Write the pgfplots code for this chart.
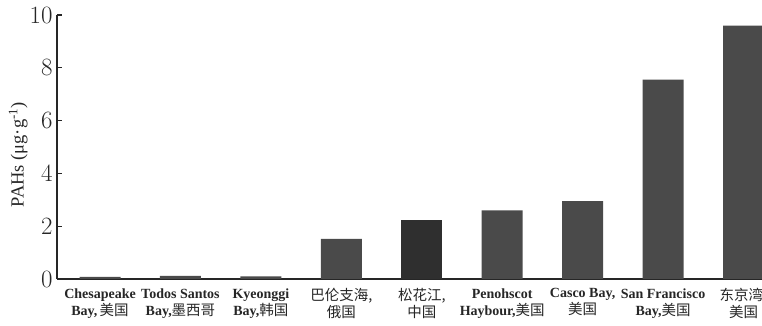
\documentclass[border=0pt]{standalone}
\usepackage{pgfplots}
\pgfplotsset{compat=1.18}
\usepackage{fontspec}
\setmainfont{Liberation Serif}
\newfontfamily\cjkf{Noto Sans CJK SC}
\newcommand{\cjk}{\cjkf\fontsize{14.5}{17}\selectfont}
\definecolor{bargray}{HTML}{4A4A4A}
\definecolor{bardark}{HTML}{2F2F2F}
\begin{document}
\begin{tikzpicture}[x=1pt,y=1pt]
\useasboundingbox (-57,-47) rectangle (705,279);
\begin{axis}[
  at={(0,0)}, anchor=south west,
  scale only axis, width=705pt, height=264pt,
  xmin=-0.535, xmax=8.23, ymin=0, ymax=10,
  ytick={0,2,4,6,8,10},
  xtick={0,1,2,3,4,5,6,7,8},
  xticklabels={
    {\textbf{Chesapeake}\\\textbf{Bay,}\,{\cjk 美国}},
    {\textbf{Todos Santos}\\\textbf{Bay,}{\cjk 墨西哥}},
    {\textbf{Kyeonggi}\\\textbf{Bay,}{\cjk 韩国}},
    {{\cjk 巴伦支海,}\\{\cjk 俄国}},
    {{\cjk 松花江,}\\{\cjk 中国}},
    {\textbf{Penohscot}\\\textbf{Haybour,}{\cjk 美国}},
    {\textbf{Casco Bay,}\\{\cjk 美国}},
    {\textbf{San Francisco}\\\textbf{Bay,}{\cjk 美国}},
    {{\cjk 东京湾,}\\{\cjk 美国}}},
  axis x line=bottom, axis y line=left,
  axis line style={-, line width=1.6pt, black!85},
  xtick style={draw=none},
  ytick style={line width=1.2pt, black!85},
  tick align=inside, major tick length=5pt,
  yticklabel style={font=\fontsize{24}{24}\selectfont, black!85, xshift=-1pt},
  xticklabel style={align=center, font=\fontsize{14}{17}\selectfont, black!85, yshift=-1pt},
  ylabel={PAHs (μg·g\textsuperscript{-1})},
  ylabel style={font=\fontsize{18.5}{18.5}\selectfont, black!85, at={(axis description cs:-0.055,0.47)}, anchor=center},
  ybar, bar width=0.51, bar shift=0pt,
  clip=true,
]
\addplot[fill=bargray, draw=none] coordinates {
  (0,0.08) (1,0.12) (2,0.10) (3,1.52) (5,2.60) (6,2.95) (7,7.55) (8,9.60)
};
\addplot[fill=bardark, draw=none] coordinates {(4,2.23)};
\end{axis}
\end{tikzpicture}
\end{document}
